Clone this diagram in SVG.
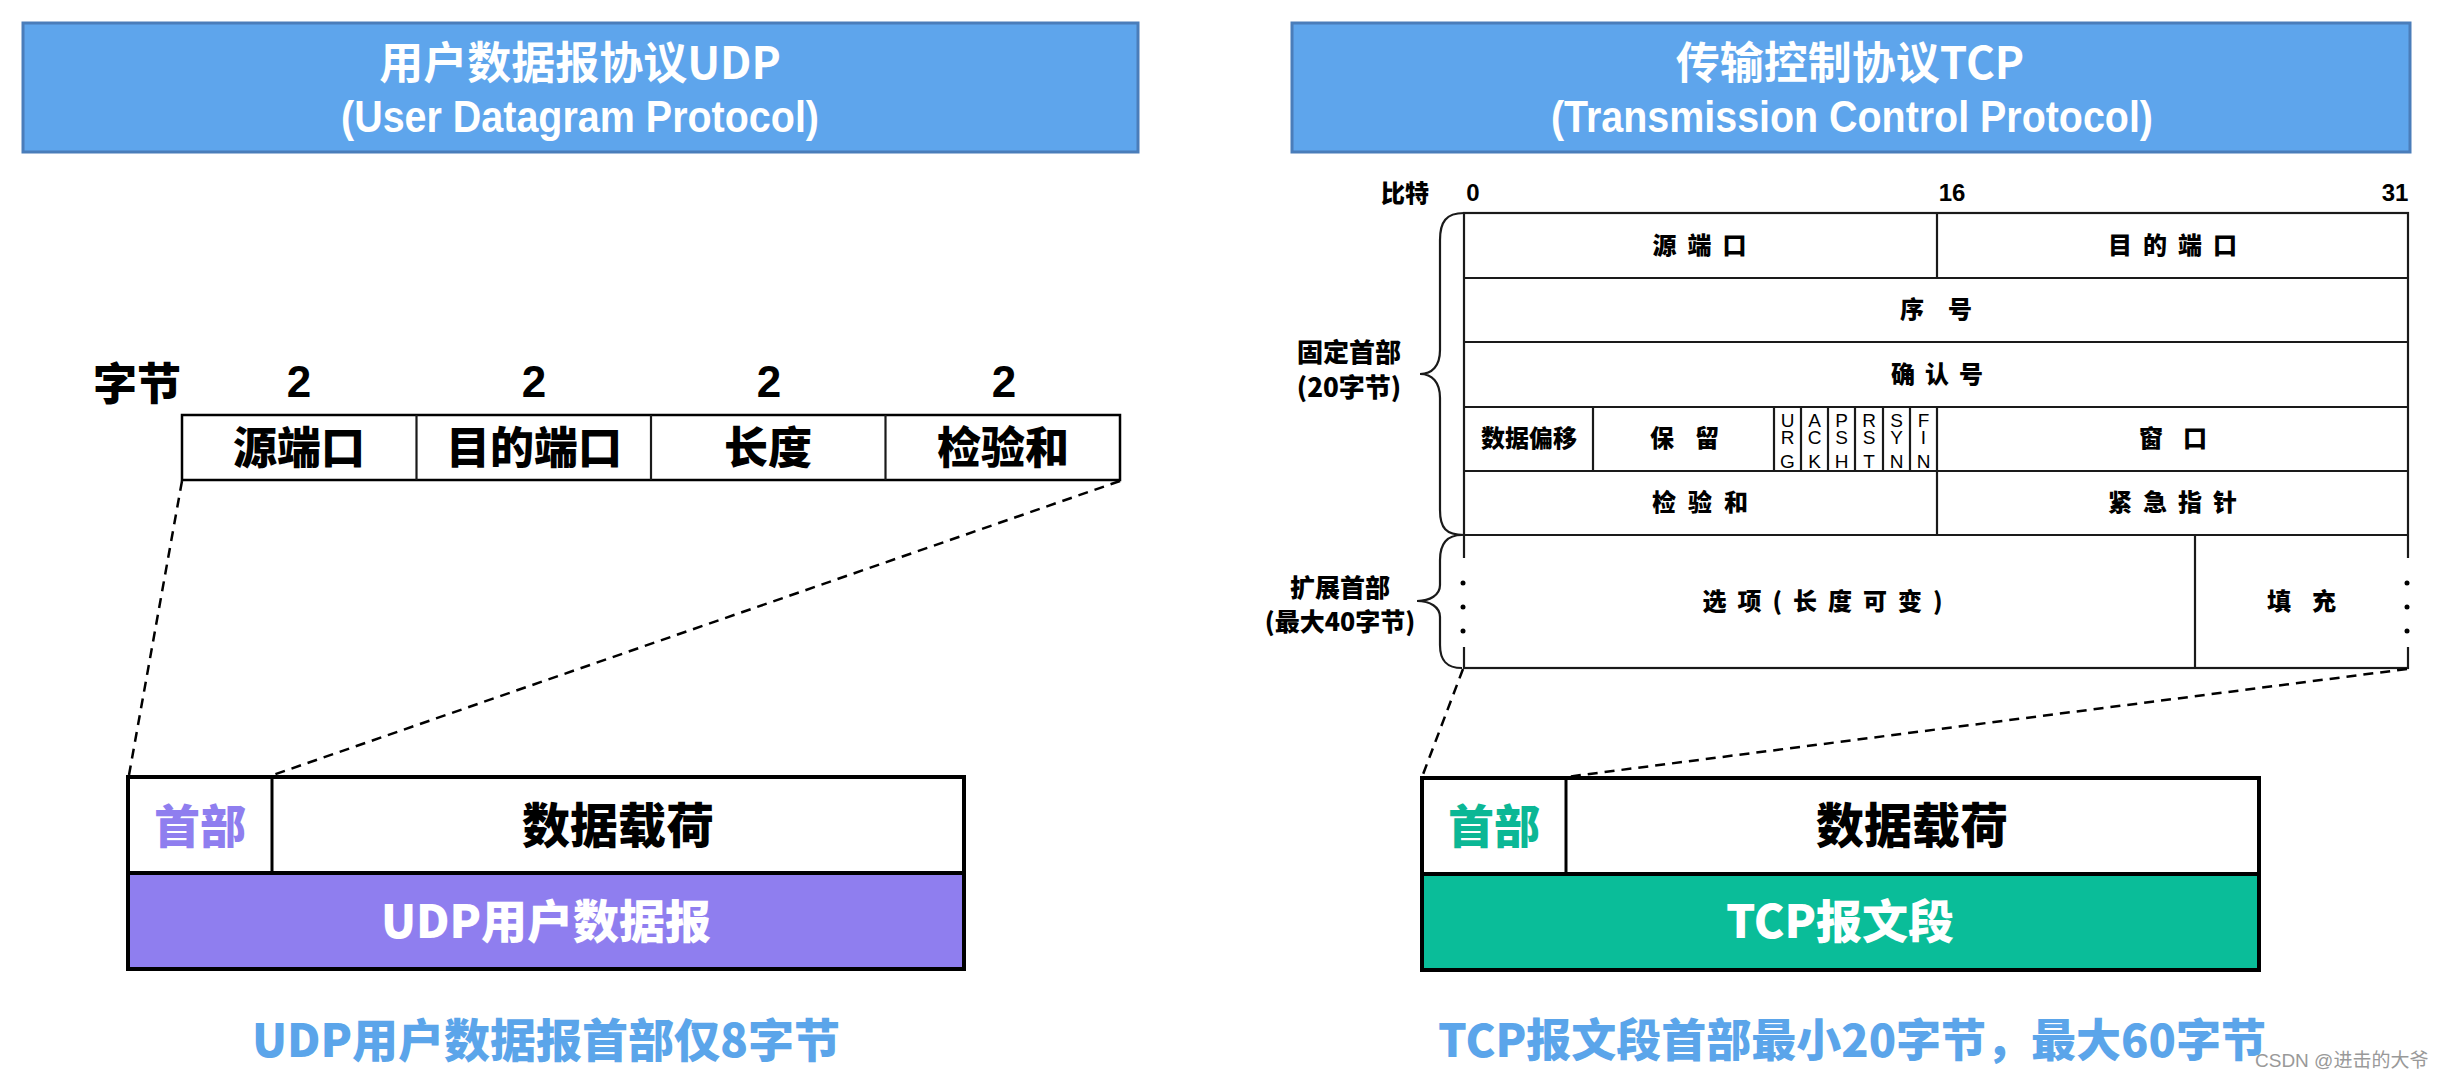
<svg xmlns="http://www.w3.org/2000/svg" width="2441" height="1078" viewBox="0 0 2441 1078">
<style>
.cjk{font-family:"Noto Sans CJK SC","Liberation Sans",sans-serif;font-weight:bold}
.heavy{font-weight:900}
.lat{font-family:"Liberation Sans","Noto Sans CJK SC",sans-serif;font-weight:bold}
.title{fill:#5EA5EC;stroke:#4A7DBA;stroke-width:3}
.wt{fill:#fff}
.mid{text-anchor:middle}
.cell{fill:#fff;stroke:#000;stroke-width:2.5}
.ln{stroke:#1a1a1a;stroke-width:2.2;fill:none}
.box{fill:none;stroke:#000;stroke-width:4}
.dash{stroke:#000;stroke-width:2.5;stroke-dasharray:10 7;fill:none}
.flag{font-family:"Liberation Sans",sans-serif;font-size:19px;text-anchor:middle;fill:#000}
.t24{font-size:24px}
.blue{fill:#5BA5EA}
</style>

<g id="udp-title">
<rect class="title" x="23" y="23" width="1115" height="129"/>
<text class="cjk wt mid" x="580" y="79" font-size="44">用户数据报协议UDP</text>
<text class="lat wt mid" x="580" y="132" font-size="44" font-weight="normal" textLength="478" lengthAdjust="spacingAndGlyphs">(User Datagram Protocol)</text>
</g>

<g id="tcp-title">
<rect class="title" x="1292" y="23" width="1118" height="129"/>
<text class="cjk wt mid" x="1850" y="79" font-size="44">传输控制协议TCP</text>
<text class="lat wt mid" x="1852" y="132" font-size="44" font-weight="normal" textLength="602" lengthAdjust="spacingAndGlyphs">(Transmission Control Protocol)</text>
</g>

<g id="udp-header">
<text class="cjk heavy" x="93" y="400" font-size="44">字节</text>
<text class="lat mid" x="299" y="397" font-size="44">2</text>
<text class="lat mid" x="534" y="397" font-size="44">2</text>
<text class="lat mid" x="769" y="397" font-size="44">2</text>
<text class="lat mid" x="1004" y="397" font-size="44">2</text>
<rect class="cell" x="182" y="415" width="938" height="65"/>
<line class="ln" x1="416.5" y1="415" x2="416.5" y2="480" stroke-width="2.5"/>
<line class="ln" x1="651" y1="415" x2="651" y2="480" stroke-width="2.5"/>
<line class="ln" x1="885.5" y1="415" x2="885.5" y2="480" stroke-width="2.5"/>
<text class="cjk heavy mid" x="299" y="464" font-size="44">源端口</text>
<text class="cjk heavy mid" x="534" y="464" font-size="44">目的端口</text>
<text class="cjk heavy mid" x="768" y="464" font-size="44">长度</text>
<text class="cjk heavy mid" x="1003" y="464" font-size="44">检验和</text>
</g>

<g id="tcp-header">
<text class="cjk heavy mid" x="1405" y="202" font-size="24">比特</text>
<text class="lat mid" x="1473" y="201" font-size="24">0</text>
<text class="lat mid" x="1952" y="201" font-size="24">16</text>
<text class="lat mid" x="2395" y="201" font-size="24">31</text>
<rect x="1464" y="213" width="944" height="455" fill="#fff" stroke="#1a1a1a" stroke-width="2.2"/>
<line class="ln" x1="1464" y1="278" x2="2408" y2="278"/>
<line class="ln" x1="1464" y1="342" x2="2408" y2="342"/>
<line class="ln" x1="1464" y1="407" x2="2408" y2="407"/>
<line class="ln" x1="1464" y1="471" x2="2408" y2="471"/>
<line class="ln" x1="1464" y1="535" x2="2408" y2="535"/>
<line class="ln" x1="1937" y1="213" x2="1937" y2="278"/>
<line class="ln" x1="1937" y1="407" x2="1937" y2="535"/>
<line class="ln" x1="1593" y1="407" x2="1593" y2="471"/>
<line class="ln" x1="1774" y1="407" x2="1774" y2="471"/>
<line class="ln" x1="1801" y1="407" x2="1801" y2="471" stroke-width="1.5"/>
<line class="ln" x1="1828" y1="407" x2="1828" y2="471" stroke-width="1.5"/>
<line class="ln" x1="1855" y1="407" x2="1855" y2="471" stroke-width="1.5"/>
<line class="ln" x1="1883" y1="407" x2="1883" y2="471" stroke-width="1.5"/>
<line class="ln" x1="1910" y1="407" x2="1910" y2="471" stroke-width="1.5"/>
<line class="ln" x1="2195" y1="535" x2="2195" y2="668"/>
<rect x="1454" y="558" width="18" height="89" fill="#fff"/>
<rect x="2398" y="558" width="18" height="89" fill="#fff"/>
<circle cx="1463" cy="583" r="2.5"/><circle cx="1463" cy="607" r="2.5"/><circle cx="1463" cy="631" r="2.5"/>
<circle cx="2407" cy="583" r="2.5"/><circle cx="2407" cy="607" r="2.5"/><circle cx="2407" cy="631" r="2.5"/>
<text class="cjk heavy mid t24" x="1705" y="254" letter-spacing="11">源端口</text>
<text class="cjk heavy mid t24" x="2178" y="254" letter-spacing="11">目的端口</text>
<text class="cjk heavy mid t24" x="1948" y="318" letter-spacing="24">序号</text>
<text class="cjk heavy mid t24" x="1942" y="383" letter-spacing="10">确认号</text>
<text class="cjk heavy mid t24" x="1529" y="447">数据偏移</text>
<text class="cjk heavy mid t24" x="1695" y="447" letter-spacing="21">保留</text>
<text class="flag" x="1787.5" y="427">U</text><text class="flag" x="1787.5" y="444">R</text><text class="flag" x="1787.5" y="468">G</text>
<text class="flag" x="1814.5" y="427">A</text><text class="flag" x="1814.5" y="444">C</text><text class="flag" x="1814.5" y="468">K</text>
<text class="flag" x="1841.5" y="427">P</text><text class="flag" x="1841.5" y="444">S</text><text class="flag" x="1841.5" y="468">H</text>
<text class="flag" x="1869" y="427">R</text><text class="flag" x="1869" y="444">S</text><text class="flag" x="1869" y="468">T</text>
<text class="flag" x="1896.5" y="427">S</text><text class="flag" x="1896.5" y="444">Y</text><text class="flag" x="1896.5" y="468">N</text>
<text class="flag" x="1923.5" y="427">F</text><text class="flag" x="1923.5" y="444">I</text><text class="flag" x="1923.5" y="468">N</text>
<text class="cjk heavy mid t24" x="2183" y="447" letter-spacing="20">窗口</text>
<text class="cjk heavy mid t24" x="1706" y="511" letter-spacing="12">检验和</text>
<text class="cjk heavy mid t24" x="2178" y="511" letter-spacing="11">紧急指针</text>
<text class="cjk heavy mid t24" x="1828" y="610" letter-spacing="11">选项(长度可变)</text>
<text class="cjk heavy mid t24" x="2312" y="610" letter-spacing="21">填充</text>
</g>

<g id="fixed-brace">
<path class="ln" d="M1464,213 C1446,213 1440,222 1440,240 L1440,350 C1440,366 1432,374 1420,374 C1432,374 1440,382 1440,398 L1440,510 C1440,528 1446,535 1464,535"/>
<text class="cjk heavy mid" x="1349" y="362" font-size="26">固定首部</text>
<text class="cjk heavy mid" x="1349" y="397" font-size="26">(20字节)</text>
</g>

<g id="ext-brace">
<path class="ln" d="M1462,535 C1446,535 1440,545 1440,560 L1440,585 C1440,595 1430,601 1417,601 C1430,601 1440,607 1440,617 L1440,645 C1440,660 1446,668 1462,668"/>
<text class="cjk heavy mid" x="1340" y="597" font-size="25">扩展首部</text>
<text class="cjk heavy mid" x="1340" y="631" font-size="25">(最大40字节)</text>
</g>

<g id="connectors">
<line class="dash" x1="182" y1="481" x2="129" y2="775"/>
<line class="dash" x1="1120" y1="481" x2="273" y2="775"/>
<line class="dash" x1="1463" y1="669" x2="1422" y2="777"/>
<line class="dash" x1="2407" y1="669" x2="1566" y2="777"/>
</g>

<g id="udp-datagram">
<rect x="128" y="777" width="836" height="96" fill="#fff"/>
<rect x="128" y="873" width="836" height="96" fill="#8F7EEF"/>
<rect class="box" x="128" y="777" width="836" height="192"/>
<line x1="128" y1="873" x2="964" y2="873" stroke="#000" stroke-width="4"/>
<line x1="272" y1="777" x2="272" y2="873" stroke="#000" stroke-width="3"/>
<text class="cjk heavy mid" x="200" y="843" font-size="46" fill="#8F7EEF">首部</text>
<text class="cjk heavy mid" x="618" y="843" font-size="48">数据载荷</text>
<text class="cjk heavy mid wt" x="546" y="938" font-size="46">UDP用户数据报</text>
</g>

<g id="tcp-segment">
<rect x="1422" y="778" width="837" height="96" fill="#fff"/>
<rect x="1422" y="874" width="837" height="96" fill="#0ABD99"/>
<rect class="box" x="1422" y="778" width="837" height="192"/>
<line x1="1422" y1="874" x2="2259" y2="874" stroke="#000" stroke-width="4"/>
<line x1="1566" y1="778" x2="1566" y2="874" stroke="#000" stroke-width="3"/>
<text class="cjk heavy mid" x="1494" y="843" font-size="46" fill="#0BB795">首部</text>
<text class="cjk heavy mid" x="1912" y="843" font-size="48">数据载荷</text>
<text class="cjk heavy mid wt" x="1840" y="938" font-size="46">TCP报文段</text>
</g>

<g id="captions">
<text class="cjk heavy mid blue" x="546" y="1057" font-size="46">UDP用户数据报首部仅8字节</text>
<text class="cjk heavy mid blue" x="1852" y="1057" font-size="45">TCP报文段首部最小20字节，最大60字节</text>
<text x="2255" y="1067" font-size="19" fill="#999" font-family="Liberation Sans, Noto Sans CJK SC, sans-serif">CSDN @进击的大爷</text>
</g>
</svg>
